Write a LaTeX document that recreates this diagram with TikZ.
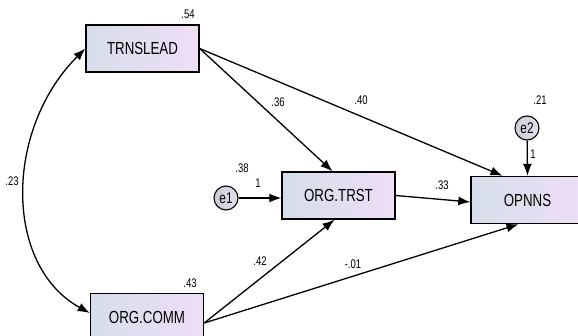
\documentclass[tikz,border=0pt]{standalone}
\usepackage{fontspec}
\setmainfont[FakeStretch=0.76]{Liberation Sans}
\usetikzlibrary{arrows.meta}
\definecolor{boxleft}{RGB}{214,222,234}
\definecolor{boxright}{RGB}{238,222,246}
\definecolor{errleft}{RGB}{205,205,212}
\definecolor{errright}{RGB}{228,222,240}
\tikzset{
  var/.style={draw, line width=1.4pt, left color=boxleft, right color=boxright,
    minimum width=113pt, minimum height=47pt, inner sep=0pt, font=\fontsize{17.5}{17.5}\selectfont},
  err/.style={draw, circle, line width=1.1pt, left color=errleft, right color=errright,
    minimum size=24pt, inner sep=0pt, font=\fontsize{15.5}{15.5}\selectfont},
  est/.style={inner sep=0pt, font=\fontsize{12.5}{12.5}\selectfont},
  path/.style={line width=1.3pt, -{Latex[length=12pt,width=9pt]}},
  cov/.style={line width=1.3pt, {Latex[length=12pt,width=9pt]}-{Latex[length=12pt,width=9pt]}}
}
\begin{document}
\begin{tikzpicture}[x=1pt, y=-1pt]
  \useasboundingbox[fill=white] (0,0) rectangle (578,336);
  % observed and exogenous variables
  \node[var] (lead) at (142.5, 48.5) {TRNSLEAD};
  \node[var] (comm) at (147, 317) {ORG.COMM};
  \node[var] (trst) at (338.5, 195.5) {ORG.TRST};
  \node[var] (opnns) at (527.5, 200) {OPNNS};
  \node[err] (e1) at (226, 198) {e1};
  \node[err] (e2) at (527, 128) {e2};

  % squared multiple correlations / variances
  \node[est] (r2lead) at (188, 14) {.54};
  \node[est] (r2comm) at (190, 283) {.43};
  \node[est] (ve1) at (242, 168) {.38};
  \node[est] (ve2) at (540, 100) {.21};

  % regression weights
  \draw[path] (lead.east) -- ([xshift=-6pt]trst.north);
  \draw[path] (lead.east) -- ([xshift=-25pt]opnns.north);
  \draw[path] ([yshift=-6pt]comm.east) -- ([xshift=-4pt]trst.south);
  \draw[path] ([yshift=-6pt]comm.east) -- ([xshift=-9pt]opnns.south);
  \draw[path] (trst.east) -- ([yshift=-2pt]opnns.west);
  \draw[path] (e1) -- (e1 -| trst.west);
  \draw[path] (e2) -- (opnns.north);
  \draw[cov] (lead.west) .. controls (4,130) and (4,266) .. ([yshift=4pt]comm.west);

  \node[est] (w36) at (278, 102) {.36};
  \node[est] (w40) at (361, 100) {.40};
  \node[est] (w33) at (442, 185) {.33};
  \node[est] (w42) at (260, 261) {.42};
  \node[est] (w01) at (353, 264) {-.01};
  \node[est] (w1a) at (258, 183) {1};
  \node[est] (w1b) at (533, 154) {1};
  \node[est] (c23) at (12, 181) {.23};
\end{tikzpicture}
\end{document}
